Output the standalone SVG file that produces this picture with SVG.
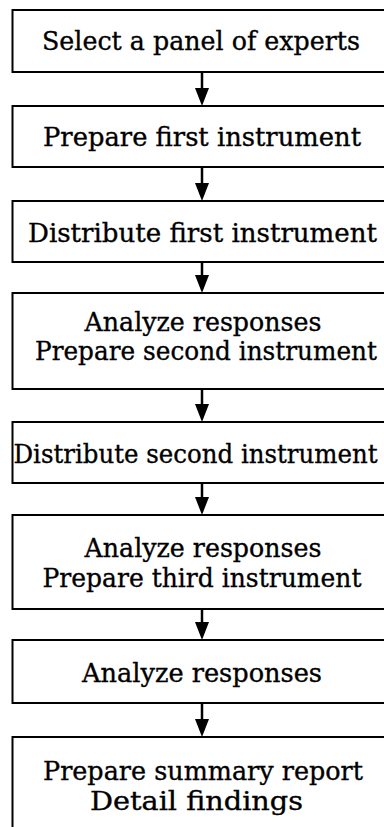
<svg xmlns="http://www.w3.org/2000/svg" width="384" height="827" viewBox="0 0 384 827">
<defs>
<style>
.box{fill:#fff;stroke:#000;stroke-width:2}
.t{font-family:"DejaVu Serif","Liberation Serif",serif;font-size:26.5px;fill:#000;stroke:#000;stroke-width:0.35;text-anchor:middle}
.ln{stroke:#000;stroke-width:2.5;fill:none}
.ah{fill:#000}
</style>
</defs>
<rect width="384" height="827" fill="#fff"/>
<g id="connectors">
<line class="ln" x1="202" y1="72" x2="202" y2="92"/><polygon class="ah" points="195,88 209,88 202,106"/>
<line class="ln" x1="202" y1="167" x2="202" y2="187"/><polygon class="ah" points="195,183 209,183 202,201"/>
<line class="ln" x1="202" y1="262" x2="202" y2="279"/><polygon class="ah" points="195,275 209,275 202,293"/>
<line class="ln" x1="202" y1="389" x2="202" y2="408"/><polygon class="ah" points="195,404 209,404 202,422"/>
<line class="ln" x1="202" y1="483" x2="202" y2="501"/><polygon class="ah" points="195,497 209,497 202,515"/>
<line class="ln" x1="202" y1="609" x2="202" y2="626"/><polygon class="ah" points="195,622 209,622 202,640"/>
<line class="ln" x1="202" y1="703" x2="202" y2="723"/><polygon class="ah" points="195,719 209,719 202,737"/>
</g>
<g id="n1"><rect class="box" x="12.5" y="10" width="380" height="62"/><text class="t" x="201" y="50" textLength="318" lengthAdjust="spacingAndGlyphs">Select a panel of experts</text></g>
<g id="n2"><rect class="box" x="12.5" y="106" width="380" height="61"/><text class="t" x="202" y="146" textLength="318" lengthAdjust="spacingAndGlyphs">Prepare first instrument</text></g>
<g id="n3"><rect class="box" x="12.5" y="201" width="380" height="61"/><text class="t" x="202.5" y="241.5" textLength="349" lengthAdjust="spacingAndGlyphs">Distribute first instrument</text></g>
<g id="n4"><rect class="box" x="12.5" y="293" width="380" height="96"/><text class="t" x="203" y="331" textLength="237" lengthAdjust="spacingAndGlyphs">Analyze responses</text><text class="t" x="206" y="360" textLength="342" lengthAdjust="spacingAndGlyphs">Prepare second instrument</text></g>
<g id="n5"><rect class="box" x="12.5" y="422" width="380" height="61"/><text class="t" x="195.5" y="462.5" textLength="364" lengthAdjust="spacingAndGlyphs">Distribute second instrument</text></g>
<g id="n6"><rect class="box" x="12.5" y="515" width="380" height="94"/><text class="t" x="203" y="556.5" textLength="237" lengthAdjust="spacingAndGlyphs">Analyze responses</text><text class="t" x="202" y="586.5" textLength="319" lengthAdjust="spacingAndGlyphs">Prepare third instrument</text></g>
<g id="n7"><rect class="box" x="12.5" y="640" width="380" height="63"/><text class="t" x="202" y="681.5" textLength="240" lengthAdjust="spacingAndGlyphs">Analyze responses</text></g>
<g id="n8"><rect class="box" x="12.5" y="737" width="380" height="100"/><text class="t" x="203" y="780" textLength="320" lengthAdjust="spacingAndGlyphs">Prepare summary report</text><text class="t" x="196.5" y="810" textLength="213" lengthAdjust="spacingAndGlyphs">Detail findings</text></g>
</svg>
